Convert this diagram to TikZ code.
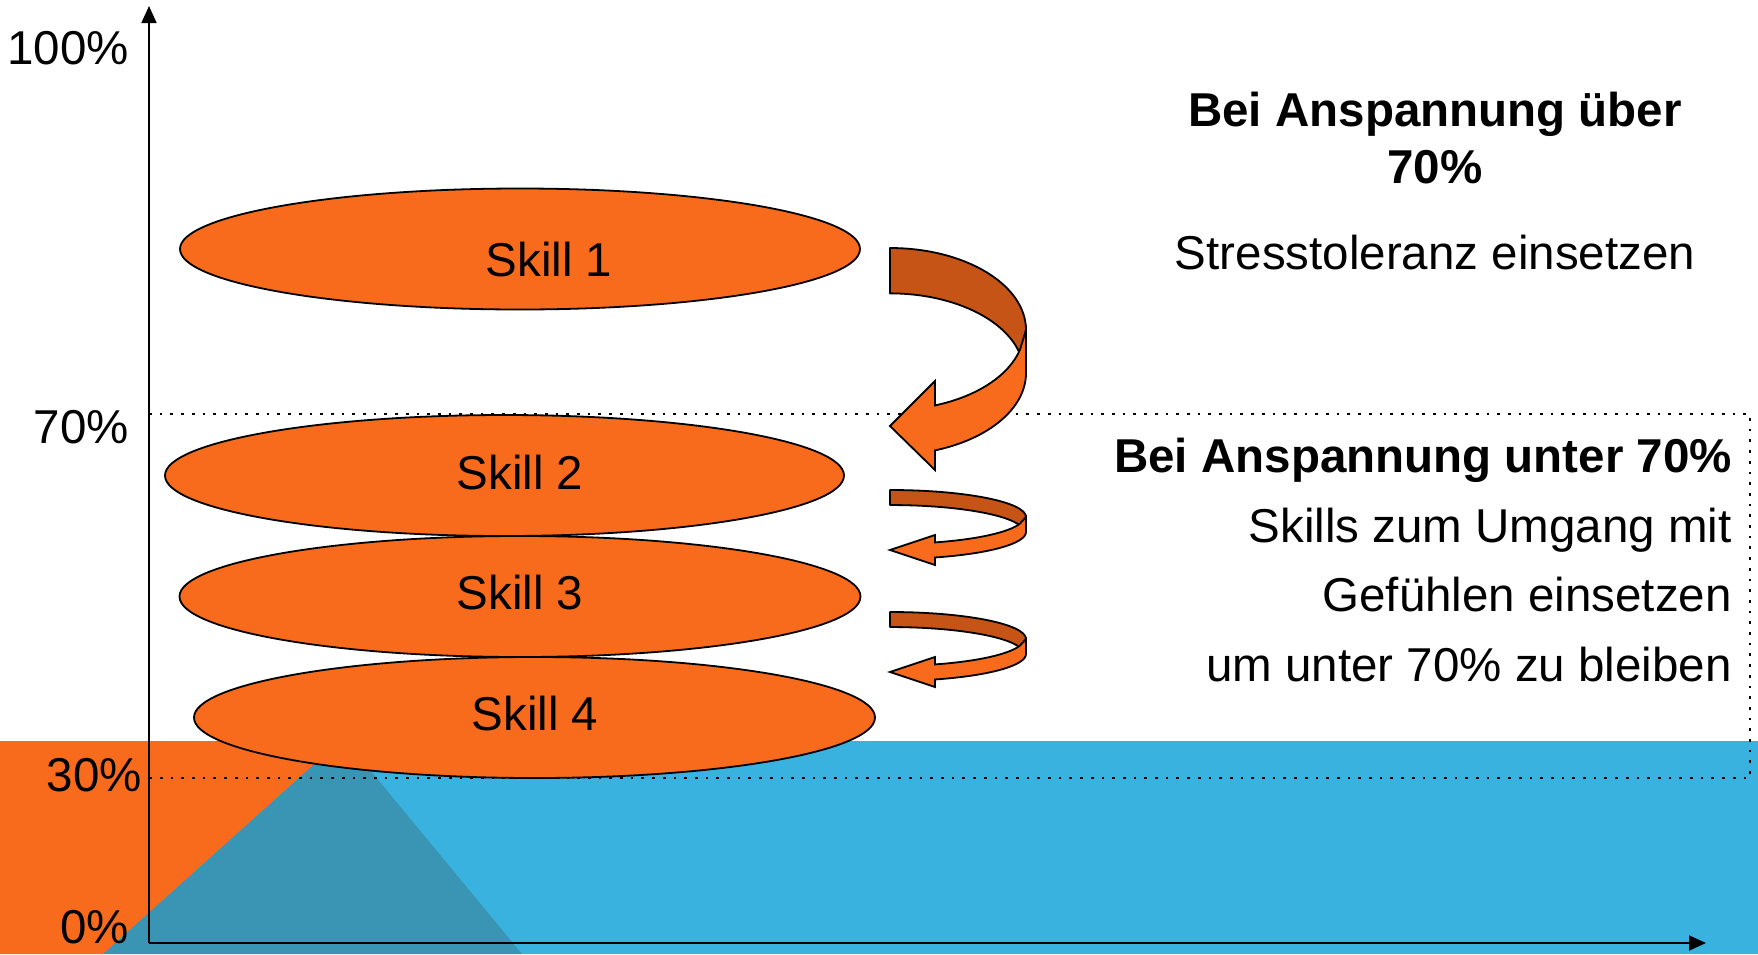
\documentclass[tikz,border=0pt]{standalone}
\usepackage{fontspec}
\setmainfont{Liberation Sans}
\usetikzlibrary{arrows.meta,shapes.geometric}
\definecolor{skillorange}{HTML}{F86B1D}
\definecolor{ribbondark}{HTML}{C55416}
\definecolor{bandblue}{HTML}{3AB2DF}
\definecolor{bandteal}{HTML}{3995B3}
\begin{document}
\begin{tikzpicture}[x=1pt,y=-1pt,
  txt/.style={inner sep=0pt,font=\fontsize{47.5}{56}\selectfont},
  boldtxt/.style={txt,font=\fontsize{47.5}{56}\selectfont\bfseries},
  skill/.style={ellipse,draw=black,line width=1.8pt,fill=skillorange,inner sep=0pt},
  axis/.style={line width=1.8pt,-{Triangle[length=17pt,width=15pt]}},
  guide/.style={line width=2.7pt,dash pattern=on 2.7pt off 8pt},
  ribbonback/.style={draw=black,line width=1.8pt,fill=ribbondark,line join=round},
  ribbonfront/.style={draw=black,line width=1.8pt,fill=skillorange,line join=miter}]
\useasboundingbox (0,0) rectangle (1758,954);
% background band
\fill[bandblue] (0,741) rectangle (1758,954);
\fill[skillorange] (0,741) -- (340,741) -- (103,954) -- (0,954) -- cycle;
\fill[bandteal] (340,741) -- (346,741) -- (522,954) -- (103,954) -- cycle;
% dotted guides
\draw[guide] (149,414) -- (1750,414) -- (1750,778) -- (149,778);
% axes
\coordinate (o) at (149,943);
\coordinate (ytop) at (149,6);
\coordinate (xend) at (1706,943);
\draw[axis] (o) -- (ytop);
\draw[axis] (o) -- (xend);
% axis labels
\node[txt,anchor=base east] (p100) at (129,64) {100\%};
\node[txt,anchor=base east] (p70) at (129,443) {70\%};
\node[txt,anchor=base east] (p30) at (142,791) {30\%};
\node[txt,anchor=base east] (p0) at (129,943) {0\%};
% skills
\node[skill,minimum width=680pt,minimum height=121pt] (s1) at (520,249) {};
\node[skill,minimum width=679pt,minimum height=121pt] (s2) at (504.5,475.5) {};
\node[skill,minimum width=681pt,minimum height=121pt] (s3) at (520,596.5) {};
\node[skill,minimum width=681pt,minimum height=121pt] (s4) at (534.5,717.5) {};
\node[txt,anchor=base] (t1) at (549,276) {Skill 1};
\node[txt,anchor=base] (t2) at (520,489) {Skill 2};
\node[txt,anchor=base] (t3) at (520,609) {Skill 3};
\node[txt,anchor=base] (t4) at (535,730) {Skill 4};
% big curved arrow
\draw[ribbonback] (890,248) arc[start angle=-90,end angle=0,x radius=136,y radius=82]
  -- (1020,354) arc[start angle=-14,end angle=-90,x radius=134,y radius=80] -- cycle;
\draw[ribbonfront] (1026,330) -- (1026,373) arc[start angle=0,end angle=70.7,x radius=136,y radius=82]
  -- (935,470) -- (890,426) -- (935,381) -- (935,405.4)
  arc[start angle=70.4,end angle=14,x radius=134,y radius=80] -- cycle;
% small curved arrows
\foreach \dy in {0,122}{
\begin{scope}[shift={(0,\dy)}]
\draw[ribbonback] (890,490) arc[start angle=-90,end angle=0,x radius=136,y radius=27]
  -- (1020,525.5) arc[start angle=-14,end angle=-90,x radius=134,y radius=27] -- cycle;
\draw[ribbonfront] (1026,517) -- (1026,532) arc[start angle=0,end angle=70.7,x radius=136,y radius=27]
  -- (935,565) -- (890,550) -- (935,535) -- (935,542.4)
  arc[start angle=70.4,end angle=14,x radius=134,y radius=27] -- cycle;
\end{scope}}
% right texts
\node[boldtxt,anchor=base] (h1a) at (1435,126) {Bei Anspannung über};
\node[boldtxt,anchor=base] (h1b) at (1435,183) {70\%};
\node[txt,anchor=base] (r1) at (1435,269) {Stresstoleranz einsetzen};
\node[boldtxt,anchor=base east] (h2) at (1732,472) {Bei Anspannung unter 70\%};
\node[txt,anchor=base east] (r2a) at (1732,542) {Skills zum Umgang mit};
\node[txt,anchor=base east] (r2b) at (1732,611) {Gefühlen einsetzen};
\node[txt,anchor=base east] (r2c) at (1732,681) {um unter 70\% zu bleiben};
\end{tikzpicture}
\end{document}
